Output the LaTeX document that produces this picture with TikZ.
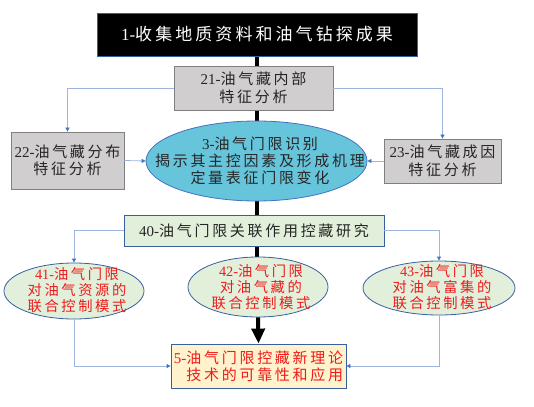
\documentclass[tikz,border=0pt]{standalone}
\usepackage{fontspec}
\setmainfont{Noto Sans CJK SC}[LetterSpace=18]
\newfontfamily\lt{Liberation Serif}
\usetikzlibrary{shapes.geometric,arrows.meta,backgrounds}
\definecolor{bordblue}{HTML}{3A5F9E}
\definecolor{lineblue}{HTML}{9DB4DD}
\definecolor{tipblue}{HTML}{4472C4}
\definecolor{grayfill}{HTML}{D0CECE}
\definecolor{grayline}{HTML}{7F7F7F}
\definecolor{cyanfill}{HTML}{66C4DB}
\definecolor{greenfill}{HTML}{E2EFDA}
\definecolor{yellowfill}{HTML}{FFF2CC}
\definecolor{txtgray}{HTML}{262626}
\definecolor{txtred}{HTML}{EE1C1C}
\tikzset{
  graybox/.style={rectangle, draw=grayline, line width=0.8pt, fill=grayfill, inner sep=0pt, align=center, text=txtgray, font=\fontsize{15}{17.5}\selectfont},
  greenell/.style={ellipse, draw=bordblue, line width=0.8pt, fill=greenfill, inner sep=0pt},
  redtext/.style={inner sep=0pt, align=center, text=txtred, font=\fontsize{14.3}{16}\selectfont},
  blueconn/.style={draw=lineblue, line width=0.8pt, -{Triangle[length=4pt,width=4pt,color=tipblue]}},
  thickline/.style={line width=4pt, black},
}
\begin{document}
\begin{tikzpicture}[x=1pt,y=-1pt]
\useasboundingbox (0,0) rectangle (534,406);
% nodes
\node[rectangle, draw=bordblue, line width=0.8pt, fill=black, text=white, minimum width=320pt, minimum height=43pt, inner sep=0pt, font=\fontsize{17}{20}\selectfont] (n1) at (257,34.5) {{\lt 1-}收集地质资料和油气钻探成果};
\node[graybox, minimum width=159pt, minimum height=44pt] (n21) at (253.5,88) {{\lt 21-}油气藏内部\\特征分析};
\node[graybox, minimum width=113pt, minimum height=57pt] (n22) at (67.5,160.5) {{\lt 22-}油气藏分布\\特征分析};
\node[graybox, minimum width=117pt, minimum height=44pt] (n23) at (442.5,161) {{\lt 23-}油气藏成因\\特征分析};
\node[ellipse, draw=tipblue, line width=0.8pt, fill=cyanfill, minimum width=221pt, minimum height=80pt, inner sep=0pt] (n3) at (256.5,161) {};
\node[inner sep=0pt, align=center, text=txtgray, font=\fontsize{15}{17}\selectfont] (n3t) at (260,161) {{\lt 3-}油气门限识别\\揭示其主控因素及形成机理\\定量表征门限变化};
\node[rectangle, draw=bordblue, line width=0.8pt, fill=greenfill, minimum width=260pt, minimum height=31pt, inner sep=0pt, text=txtgray, font=\fontsize{15}{17}\selectfont] (n40) at (254,230.5) {{\lt 40-}油气门限关联作用控藏研究};
\node[greenell, minimum width=140pt, minimum height=56pt] (n41) at (74,291) {};
\node[redtext] (n41t) at (77,290) {{\lt 41-}油气门限\\对油气资源的\\联合控制模式};
\node[greenell, minimum width=140pt, minimum height=60pt] (n42) at (258,287) {};
\node[redtext] (n42t) at (261,287) {{\lt 42-}油气门限\\对油气藏的\\联合控制模式};
\node[greenell, minimum width=152pt, minimum height=54pt] (n43) at (439,288) {};
\node[redtext] (n43t) at (442,287) {{\lt 43-}油气门限\\对油气富集的\\联合控制模式};
\node[rectangle, draw=bordblue, line width=0.8pt, fill=yellowfill, minimum width=175pt, minimum height=44pt, inner sep=0pt, align=right, text=txtred, font=\fontsize{15}{17}\selectfont] (n5) at (258.5,366) {{\lt 5-}油气门限控藏新理论\\技术的可靠性和应用};
% connectors
\begin{scope}[on background layer]
\draw[thickline] (n1.south) -- (n1.south |- n42.north);
\end{scope}
\draw[thickline, -{Triangle[length=15pt,width=13pt]}] (n42.south) -- (n5.north);
\draw[blueconn] (n21.west) -| (n22.north);
\draw[blueconn] (n21.east) -| (n23.north);
\draw[blueconn] (n22.east) -- (n3.west);
\draw[blueconn] (n23.west) -- (n3.east);
\draw[blueconn] (n40.west) -| (n41.north);
\draw[blueconn] (n40.east) -| (n43.north);
\draw[blueconn] (n41.south) |- (n5.west);
\draw[blueconn] (n43.south) |- (n5.east);
\end{tikzpicture}
\end{document}
